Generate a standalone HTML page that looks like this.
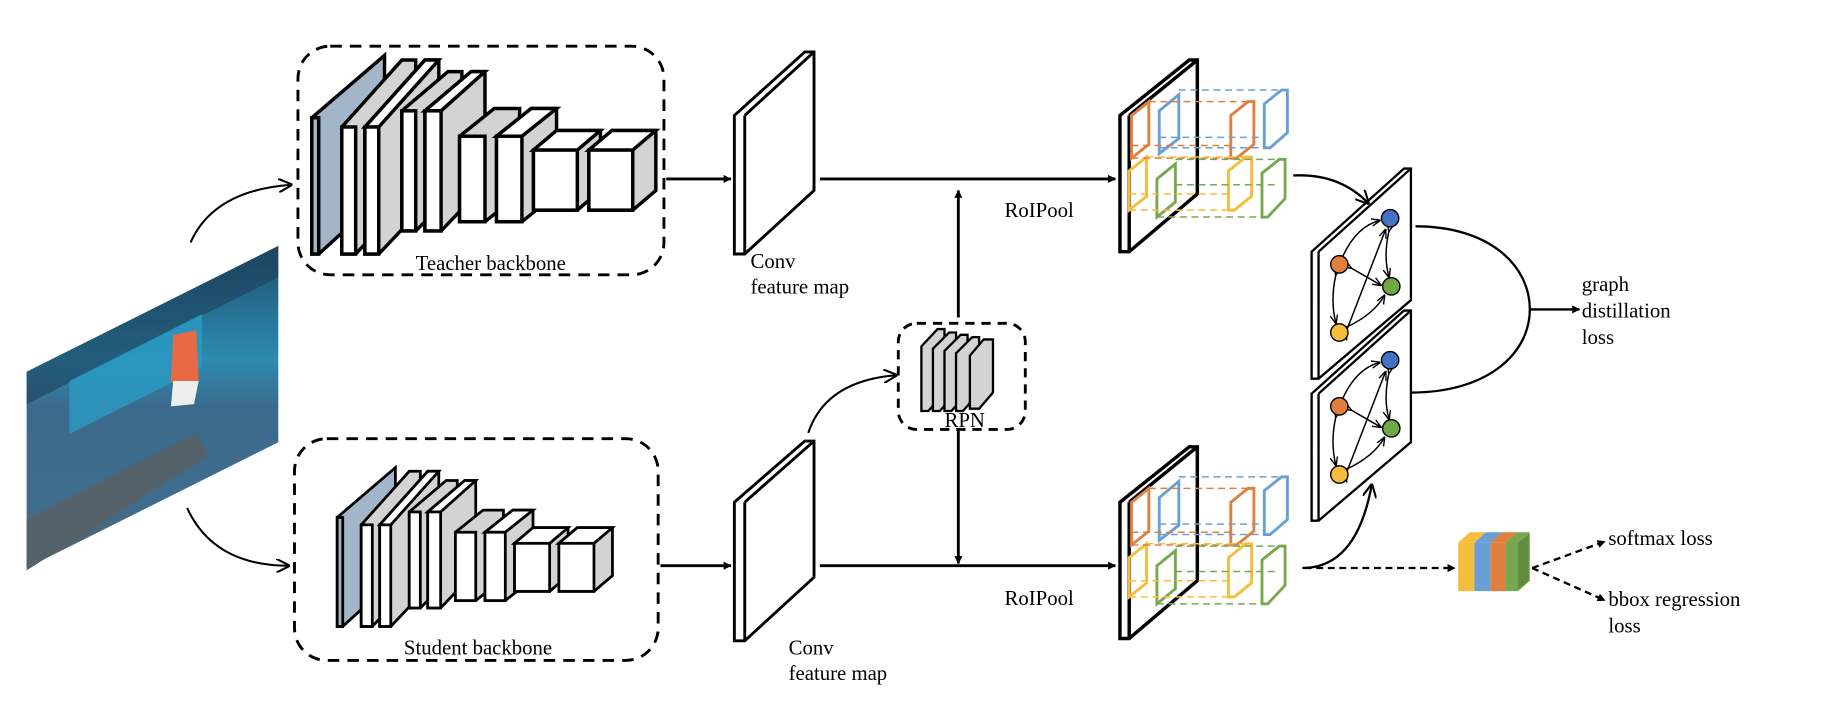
<!DOCTYPE html>
<html><head><meta charset="utf-8"><style>
html,body{margin:0;padding:0;background:#fff;}
svg{display:block;}
text{font-family:"Liberation Serif",serif;font-size:18px;fill:#000;}
</style></head><body>
<svg width="1822" height="706" viewBox="0 0 1578 611.5" xmlns="http://www.w3.org/2000/svg">
<defs>
<marker id="ah" viewBox="0 0 10 10" refX="9" refY="5" markerWidth="7" markerHeight="7" orient="auto-start-reverse" markerUnits="userSpaceOnUse"><path d="M0,0 L10,5 L0,10 z" fill="#000"/></marker>
<marker id="oh" viewBox="0 0 10 10" refX="9" refY="5" markerWidth="12" markerHeight="12" orient="auto" markerUnits="userSpaceOnUse"><path d="M0,0 L10,5 L0,10" fill="none" stroke="#000" stroke-width="1.5"/></marker>
<marker id="sh" viewBox="0 0 10 10" refX="9" refY="5" markerWidth="8" markerHeight="8" orient="auto" markerUnits="userSpaceOnUse"><path d="M0,1 L10,5 L0,9" fill="none" stroke="#000" stroke-width="1.5"/></marker>
<linearGradient id="court" x1="0" y1="0" x2="0" y2="1"><stop offset="0" stop-color="#1f4f6e"/><stop offset="0.35" stop-color="#2b8bb0"/><stop offset="0.5" stop-color="#3c6a8c"/><stop offset="0.8" stop-color="#3f6c8c"/><stop offset="1" stop-color="#55606a"/></linearGradient>
<g id="layers" stroke="#000" stroke-width="3" stroke-linejoin="miter">
 <polygon points="270,102 333,48 333,168 276,220 270,220" fill="#a3b5c8"/>
 <rect x="270" y="102" width="6" height="118" fill="#a3b5c8"/>
 <polygon points="296,110 348,52 360,52 360,165 308,220 296,220" fill="#d3d3d3"/>
 <rect x="296" y="110" width="12" height="110" fill="#fff"/>
 <polygon points="316,110 368,52 380,52 380,165 328,220 316,220" fill="#d3d3d3"/>
 <polygon points="316,110 368,52 380,52 328,110" fill="#fff"/>
 <rect x="316" y="110" width="12" height="110" fill="#fff"/>
 <polygon points="348,96 388,62 400,62 400,160 360,200 348,200" fill="#d3d3d3"/>
 <rect x="348" y="96" width="12" height="104" fill="#fff"/>
 <polygon points="368,96 408,62 420,62 420,160 382,200 368,200" fill="#d3d3d3"/>
 <polygon points="368,96 408,62 420,62 382,96" fill="#fff"/>
 <rect x="368" y="96" width="14" height="104" fill="#fff"/>
 <polygon points="398,118 428,94 450,94 450,168 420,192 398,192" fill="#d3d3d3"/>
 <rect x="398" y="118" width="22" height="74" fill="#fff"/>
 <polygon points="430,118 460,94 482,94 482,168 452,192 430,192" fill="#d3d3d3"/>
 <polygon points="430,118 460,94 482,94 452,118" fill="#fff"/>
 <rect x="430" y="118" width="22" height="74" fill="#fff"/>
 <polygon points="462,130 482,113 520,113 520,165 500,182 462,182" fill="#d3d3d3"/>
 <polygon points="462,130 482,113 520,113 500,130" fill="#fff"/>
 <rect x="462" y="130" width="38" height="52" fill="#fff"/>
 <polygon points="510,130 530,113 568,113 568,165 548,182 510,182" fill="#d3d3d3"/>
 <polygon points="510,130 530,113 568,113 548,130" fill="#fff"/>
 <rect x="510" y="130" width="38" height="52" fill="#fff"/>
</g>
</defs>

<polygon points="23,322 241,213 241,383 23,492" fill="url(#court)"/>
<polygon points="23,322 241,213 241,240 23,350" fill="#1d3f58" opacity="0.6"/>
<polygon points="60,330 175,272 175,318 60,376" fill="#2a9bc4" opacity="0.8"/>
<polygon points="23,450 170,375 180,395 23,494" fill="#56626a"/>
<polygon points="150,290 170,286 172,330 160,345 148,330" fill="#e86a44"/>
<polygon points="150,330 172,330 168,350 148,352" fill="#eeeeee"/>

<path d="M165,210 Q185,165 252,160" fill="none" stroke="#000" stroke-width="1.8" marker-end="url(#oh)"/>
<path d="M162,440 Q185,490 250,490" fill="none" stroke="#000" stroke-width="1.8" marker-end="url(#oh)"/>

<rect x="258" y="40" width="317" height="198" rx="28" fill="none" stroke="#000" stroke-width="2.5" stroke-dasharray="10,7"/>
<use href="#layers"/>
<text x="425" y="234" text-anchor="middle">Teacher backbone</text>

<rect x="255" y="380" width="315" height="192" rx="28" fill="none" stroke="#000" stroke-width="2.5" stroke-dasharray="10,7"/>
<g transform="translate(76,366.6) scale(0.8)"><use href="#layers"/></g>
<text x="414" y="567" text-anchor="middle">Student backbone</text>

<line x1="577" y1="155" x2="633" y2="155" stroke="#000" stroke-width="2.5" marker-end="url(#ah)"/>
<line x1="572" y1="490" x2="633" y2="490" stroke="#000" stroke-width="2.5" marker-end="url(#ah)"/>

<g stroke="#000" stroke-width="2.5" fill="#fff">
<polygon points="636,100 697,45 705,45 705,165 645,220 636,220"/>
<line x1="645" y1="100" x2="705" y2="45"/><line x1="645" y1="100" x2="645" y2="220"/>
<polygon points="636,435 697,382 705,382 705,500 645,555 636,555"/>
<line x1="645" y1="435" x2="705" y2="382"/><line x1="645" y1="435" x2="645" y2="555"/>
</g>
<text x="650" y="232">Conv</text><text x="650" y="254">feature map</text>
<text x="683" y="567">Conv</text><text x="683" y="589">feature map</text>

<line x1="710" y1="155" x2="966" y2="155" stroke="#000" stroke-width="2.5" marker-end="url(#ah)"/>
<line x1="710" y1="490" x2="966" y2="490" stroke="#000" stroke-width="2.5" marker-end="url(#ah)"/>
<text x="870" y="188">RoIPool</text>
<text x="870" y="524">RoIPool</text>
<line x1="830" y1="275" x2="830" y2="165" stroke="#000" stroke-width="2.5" marker-end="url(#ah)"/>
<line x1="830" y1="373" x2="830" y2="488" stroke="#000" stroke-width="2.5" marker-end="url(#ah)"/>

<rect x="778" y="280" width="110" height="92" rx="16" fill="#fff" stroke="#000" stroke-width="2.5" stroke-dasharray="8,6"/>
<g stroke="#000" stroke-width="2" fill="#d3d3d3">
<polygon points="798,300 812,285 818,285 818,340 804,356 798,356"/>
<polygon points="808,302 822,288 828,288 828,340 814,356 808,356"/>
<polygon points="818,304 832,290 838,290 838,340 824,356 818,356"/>
<polygon points="828,306 842,292 848,292 848,340 834,356 828,356"/>
<polygon points="840,308 852,294 860,294 860,340 848,354 840,354"/>
</g>
<text x="818" y="370">RPN</text>
<path d="M700,375 Q715,330 776,325" fill="none" stroke="#000" stroke-width="1.8" marker-end="url(#oh)"/>

<g id="roi">
<g stroke="#000" stroke-width="3" fill="#fff">
<polygon points="970,100 1030,52 1037,52 1037,168 978,218 970,218"/>
<line x1="978" y1="100" x2="1037" y2="52"/><line x1="978" y1="100" x2="978" y2="218"/>
</g>
<g fill="none" stroke-width="2.5">
<g stroke="#e07f3e"><polygon points="980,100 995,88 995,125 980,137"/><polygon points="1066,100 1081,88 1086,88 1086,125 1071,137 1066,137"/></g>
<g stroke="#6a9fd4"><polygon points="1004,96 1021,82 1021,120 1004,133"/><polygon points="1095,90 1110,78 1115,78 1115,115 1100,128 1095,128"/></g>
<g stroke="#f5bd3c"><polygon points="978,148 993,136 993,170 978,182"/><polygon points="1064,148 1079,136 1084,136 1084,170 1069,182 1064,182"/></g>
<g stroke="#77a84f"><polygon points="1002,155 1018,142 1018,175 1002,188"/><polygon points="1093,150 1108,138 1113,138 1113,172 1098,188 1093,188"/></g>
</g>
<g fill="none" stroke-width="1.3" stroke-dasharray="6,4">
<g stroke="#e07f3e"><line x1="995" y1="88" x2="1081" y2="88"/><line x1="980" y1="126" x2="1066" y2="126"/><line x1="980" y1="137" x2="1066" y2="137"/></g>
<g stroke="#6a9fd4"><line x1="1021" y1="78" x2="1110" y2="78"/><line x1="1004" y1="119" x2="1095" y2="119"/><line x1="1004" y1="128" x2="1095" y2="128"/></g>
<g stroke="#f5bd3c"><line x1="993" y1="136" x2="1079" y2="136"/><line x1="978" y1="182" x2="1064" y2="182"/><line x1="978" y1="168" x2="1064" y2="168"/></g>
<g stroke="#77a84f"><line x1="1018" y1="138" x2="1108" y2="138"/><line x1="1002" y1="188" x2="1093" y2="188"/><line x1="1018" y1="160" x2="1108" y2="160"/></g>
</g>
</g>
<g transform="translate(0,335)"><use href="#roi"/></g>

<g id="gp">
<g stroke="#000" stroke-width="2" fill="#fff">
<polygon points="1136,218 1216,146 1222,146 1222,260 1142,328 1136,328"/>
<line x1="1142" y1="218" x2="1222" y2="146"/><line x1="1142" y1="218" x2="1142" y2="328"/>
</g>
<g fill="none" stroke="#000" stroke-width="1.3" marker-end="url(#sh)" marker-start="url(#sh)">
<path d="M1163,222 Q1175,196 1195,191"/>
<path d="M1203,200 Q1198,222 1203,240"/>
<path d="M1157,238 Q1152,260 1157,280"/>
<path d="M1167,283 Q1190,272 1199,256"/>
<path d="M1166,287 L1200,199"/>
<path d="M1170,232 L1196,247"/>
</g>
<g stroke="#000" stroke-width="1.2">
<circle cx="1204" cy="189" r="7.5" fill="#4472c4"/>
<circle cx="1160" cy="229" r="7.5" fill="#e07f3e"/>
<circle cx="1205" cy="248" r="7.5" fill="#70a845"/>
<circle cx="1160" cy="288" r="7.5" fill="#f5bd3c"/>
</g>
</g>
<g transform="translate(0,123)"><use href="#gp"/></g>

<path d="M1120,152 Q1160,150 1185,176" fill="none" stroke="#000" stroke-width="2" marker-end="url(#oh)"/>
<path d="M1128,492 Q1175,492 1188,420" fill="none" stroke="#000" stroke-width="2" marker-end="url(#oh)"/>
<path d="M1226,196 C1290,196 1325,230 1325,268 C1325,305 1290,340 1222,340" fill="none" stroke="#000" stroke-width="2"/>
<line x1="1325" y1="268" x2="1368" y2="268" stroke="#000" stroke-width="2" marker-end="url(#ah)"/>
<text x="1370" y="252">graph</text><text x="1370" y="275">distillation</text><text x="1370" y="298">loss</text>

<line x1="1130" y1="492" x2="1260" y2="492" stroke="#000" stroke-width="2" stroke-dasharray="6,4" marker-end="url(#ah)"/>
<polygon points="1263,470 1273,461 1287,461 1277,470" fill="#f5bd3c"/>
<rect x="1263" y="470" width="14" height="42" fill="#f5bd3c"/>
<polygon points="1277,470 1287,461 1301,461 1291,470" fill="#6a9fd4"/>
<rect x="1277" y="470" width="14" height="42" fill="#6a9fd4"/>
<polygon points="1291,470 1301,461 1314,461 1304,470" fill="#e07f3e"/>
<rect x="1291" y="470" width="13" height="42" fill="#e07f3e"/>
<polygon points="1304,470 1314,461 1325,461 1325,503 1315,512 1304,512" fill="#77a84f"/>
<polygon points="1315,470 1324,463 1324,503 1315,510" fill="#5f8a40"/>
<line x1="1327" y1="492" x2="1390" y2="469" stroke="#000" stroke-width="2" stroke-dasharray="6,4" marker-end="url(#ah)"/>
<line x1="1327" y1="492" x2="1390" y2="520" stroke="#000" stroke-width="2" stroke-dasharray="6,4" marker-end="url(#ah)"/>
<text x="1393" y="472">softmax loss</text>
<text x="1393" y="525">bbox regression</text>
<text x="1393" y="548">loss</text>
</svg>
</body></html>
